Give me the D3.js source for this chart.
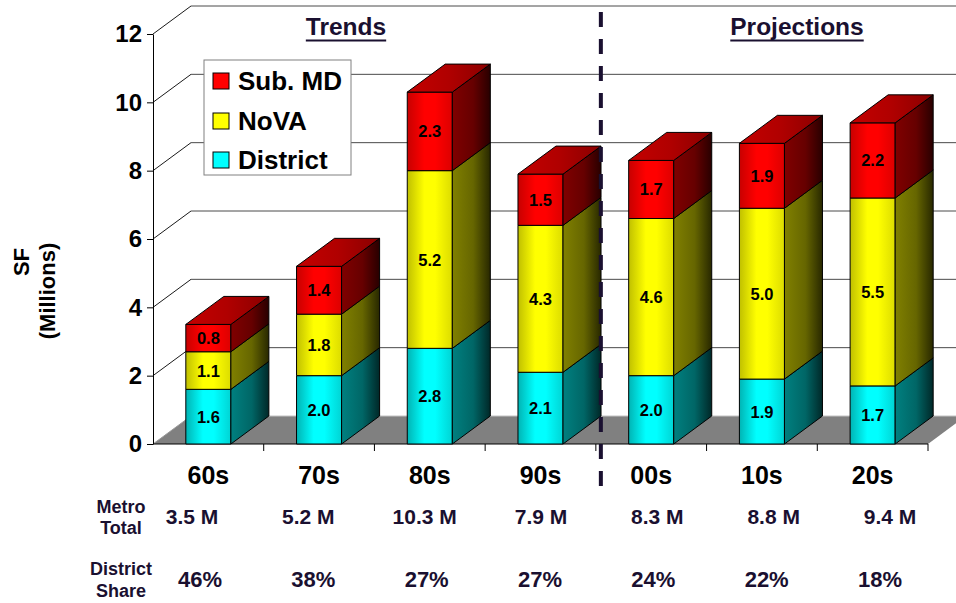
<!DOCTYPE html>
<html>
<head>
<meta charset="utf-8">
<script src="https://cdn.jsdelivr.net/npm/d3@7"></script>
<style>
  body { margin: 0; background: #fff; }
  svg { display: block; }
  text { font-family: "Liberation Sans", Arial, sans-serif; font-weight: bold; }
</style>
</head>
<body>
<svg id="chart" width="956" height="603"></svg>
<script>
// ---- data ----
const decades = ["60s", "70s", "80s", "90s", "00s", "10s", "20s"];
const district = [1.6, 2.0, 2.8, 2.1, 2.0, 1.9, 1.7];
const nova = [1.1, 1.8, 5.2, 4.3, 4.6, 5.0, 5.5];
const subMD = [0.8, 1.4, 2.3, 1.5, 1.7, 1.9, 2.2];
const metroTotal = ["3.5 M", "5.2 M", "10.3 M", "7.9 M", "8.3 M", "8.8 M", "9.4 M"];
const districtShare = ["46%", "38%", "27%", "27%", "24%", "22%", "18%"];
const yTicks = [0, 2, 4, 6, 8, 10, 12];
const seriesNames = ["District", "NoVA", "Sub. MD"];
const legendOrder = ["Sub. MD", "NoVA", "District"];

// ---- layout ----
const svg = d3.select("#chart");
const X0 = 153, X1 = 928, Y0 = 444, YTOP = 34;
const DX = 38, DY = -28;              // depth offset of the 3-D box

const x = d3.scaleBand().domain(decades).range([X0, X1])
  .paddingInner(0.593).paddingOuter(0.2965);
const y = d3.scaleLinear().domain([0, 12]).range([Y0, YTOP]);
const bw = x.bandwidth();

const rows = decades.map((d, i) => ({
  decade: d, "District": district[i], "NoVA": nova[i], "Sub. MD": subMD[i]
}));
const stacked = d3.stack().keys(seriesNames)(rows);

// ---- shading gradients ----
const shades = {
  "District": { front: ["#00b4b4", "#00ffff", "#00ffff", "#00d4d4"],
                side:  ["#008080", "#006666", "#002828"],
                top:   ["#00a8a8", "#009090", "#006a6a"], flat: "#00ffff" },
  "NoVA":     { front: ["#c0c000", "#ffff00", "#ffff00", "#dcdc00"],
                side:  ["#808000", "#666600", "#282800"],
                top:   ["#a8a800", "#909000", "#6a6a00"], flat: "#ffff00" },
  "Sub. MD":  { front: ["#c80000", "#ff0000", "#ff0000", "#dc0000"],
                side:  ["#800000", "#660000", "#280000"],
                top:   ["#c40000", "#b00000", "#8a0000"], flat: "#ff0000" }
};
const defs = svg.append("defs");
const gid = (s, f) => "g-" + seriesNames.indexOf(s) + "-" + f;
seriesNames.forEach(s => {
  const addGrad = (face, stops, offs) => {
    const g = defs.append("linearGradient").attr("id", gid(s, face))
      .attr("x1", 0).attr("x2", 1).attr("y1", 0).attr("y2", 0);
    stops.forEach((c, k) => g.append("stop").attr("offset", offs[k]).attr("stop-color", c));
  };
  addGrad("front", shades[s].front, [0, 0.38, 0.62, 1]);
  addGrad("side", shades[s].side, [0, 0.55, 1]);
  addGrad("top", shades[s].top, [0, 0.5, 1]);
});

// ---- walls and floor ----
const walls = svg.append("g");
yTicks.filter(t => t > 0).forEach(t => {
  walls.append("line")
    .attr("x1", X0 + DX).attr("x2", X1 + DX)
    .attr("y1", y(t) + DY).attr("y2", y(t) + DY)
    .attr("stroke", "#4a4a4a").attr("stroke-width", 1);
  walls.append("line")
    .attr("x1", X0).attr("x2", X0 + DX)
    .attr("y1", y(t)).attr("y2", y(t) + DY)
    .attr("stroke", "#1a1a1a").attr("stroke-width", 1);
});
walls.append("polygon")
  .attr("points", [[X0, Y0], [X1, Y0], [X1 + DX, Y0 + DY], [X0 + DX, Y0 + DY]].join(" "))
  .attr("fill", "#808080");
walls.append("line")
  .attr("x1", X0 + DX).attr("x2", X1 + DX)
  .attr("y1", Y0 + DY).attr("y2", Y0 + DY)
  .attr("stroke", "#c4c4c4").attr("stroke-width", 1.2);
walls.append("line")
  .attr("x1", X0).attr("x2", X0 + DX)
  .attr("y1", Y0).attr("y2", Y0 + DY)
  .attr("stroke", "#9a9a9a").attr("stroke-width", 1);

// ---- axes ----
const yAxis = svg.append("g").attr("transform", `translate(${X0},0)`)
  .call(d3.axisLeft(y).tickValues(yTicks).tickSize(6).tickSizeOuter(0).tickPadding(5));
yAxis.select(".domain").attr("stroke", "#000");
yAxis.selectAll(".tick line").attr("stroke", "#000");
yAxis.selectAll(".tick text").attr("font-size", 24).attr("fill", "#000")
  .attr("font-family", "Liberation Sans, Arial, sans-serif").attr("font-weight", "bold");

svg.append("line").attr("x1", X0).attr("x2", X1).attr("y1", Y0).attr("y2", Y0)
  .attr("stroke", "#000");
const halfGap = x.step() * x.paddingInner() / 2;
decades.forEach(d => {
  const bx = x(d) + bw + halfGap;
  svg.append("line").attr("x1", bx).attr("x2", bx).attr("y1", Y0).attr("y2", Y0 + 7)
    .attr("stroke", "#000");
});
svg.append("g").selectAll("text").data(decades).join("text")
  .attr("x", d => x(d) + bw / 2).attr("y", 484)
  .attr("text-anchor", "middle").attr("font-size", 25).attr("fill", "#000")
  .text(d => d);

// axis title
svg.append("text").attr("transform", "translate(29,262) rotate(-90)")
  .attr("text-anchor", "middle").attr("font-size", 22).attr("fill", "#000").text("SF");
svg.append("text").attr("transform", "translate(55,291) rotate(-90)")
  .attr("text-anchor", "middle").attr("font-size", 22).attr("fill", "#000").text("(Millions)");

// ---- bars ----
const bars = svg.append("g").attr("stroke", "#000").attr("stroke-width", 1)
  .attr("stroke-linejoin", "round");
decades.forEach((d, i) => {
  const bx = x(d);
  stacked.forEach((layer, li) => {
    const s = layer.key;
    const lo = y(layer[i][0]), hi = y(layer[i][1]);
    bars.append("rect").attr("x", bx).attr("y", hi).attr("width", bw).attr("height", lo - hi)
      .attr("fill", `url(#${gid(s, "front")})`);
    bars.append("polygon")
      .attr("points", [[bx + bw, lo], [bx + bw + DX, lo + DY], [bx + bw + DX, hi + DY], [bx + bw, hi]].join(" "))
      .attr("fill", `url(#${gid(s, "side")})`);
    if (li === stacked.length - 1) {
      bars.append("polygon")
        .attr("points", [[bx, hi], [bx + DX, hi + DY], [bx + bw + DX, hi + DY], [bx + bw, hi]].join(" "))
        .attr("fill", `url(#${gid(s, "top")})`);
    }
  });
});

// value labels inside the front faces
const labels = svg.append("g");
stacked.forEach(layer => {
  layer.forEach((seg, i) => {
    labels.append("text")
      .attr("x", x(decades[i]) + bw / 2)
      .attr("y", (y(seg[0]) + y(seg[1])) / 2 + 6)
      .attr("text-anchor", "middle").attr("font-size", 16.5).attr("fill", "#000")
      .text(d3.format(".1f")(seg[1] - seg[0]));
  });
});

// ---- legend ----
const lg = svg.append("g");
lg.append("rect").attr("x", 204).attr("y", 60).attr("width", 147).attr("height", 115)
  .attr("fill", "#fff").attr("stroke", "#808080");
legendOrder.forEach((s, k) => {
  const cy = [81, 121, 160][k];
  lg.append("rect").attr("x", 213).attr("y", cy - 8).attr("width", 16).attr("height", 16)
    .attr("fill", shades[s].flat).attr("stroke", "#000");
  lg.append("text").attr("x", 238).attr("y", cy + 9).attr("font-size", 26).attr("fill", "#000").text(s);
});

// ---- section titles and divider ----
const ink = "#1a1030";
[["Trends", 346], ["Projections", 797]].forEach(([t, cx]) => {
  const tt = svg.append("text").attr("x", cx).attr("y", 35).attr("text-anchor", "middle")
    .attr("font-size", 24.5).attr("fill", ink).text(t);
  const w = tt.node().getComputedTextLength();
  svg.append("line").attr("x1", cx - w / 2).attr("x2", cx + w / 2).attr("y1", 40.5).attr("y2", 40.5)
    .attr("stroke", ink).attr("stroke-width", 2);
});
const divX = x("90s") + bw + halfGap + 5;
svg.append("line").attr("x1", divX).attr("x2", divX).attr("y1", 12).attr("y2", 496)
  .attr("stroke", ink).attr("stroke-width", 4).attr("stroke-dasharray", "15,12");

// ---- table under the axis ----
const metroX = d3.scalePoint().domain(decades).range([192, 890]);
const shareX = d3.scalePoint().domain(decades).range([200, 880]);
const tbl = svg.append("g").attr("fill", ink).attr("text-anchor", "middle");
tbl.append("text").attr("x", 121).attr("y", 513).attr("font-size", 18).text("Metro");
tbl.append("text").attr("x", 121).attr("y", 534).attr("font-size", 18).text("Total");
tbl.append("text").attr("x", 121).attr("y", 575).attr("font-size", 18).text("District");
tbl.append("text").attr("x", 121).attr("y", 597).attr("font-size", 18).text("Share");
metroTotal.forEach((v, i) => tbl.append("text").attr("x", metroX(decades[i])).attr("y", 524)
  .attr("font-size", 21).text(v));
districtShare.forEach((v, i) => tbl.append("text").attr("x", shareX(decades[i])).attr("y", 587)
  .attr("font-size", 22).text(v));
</script>
</body>
</html>
